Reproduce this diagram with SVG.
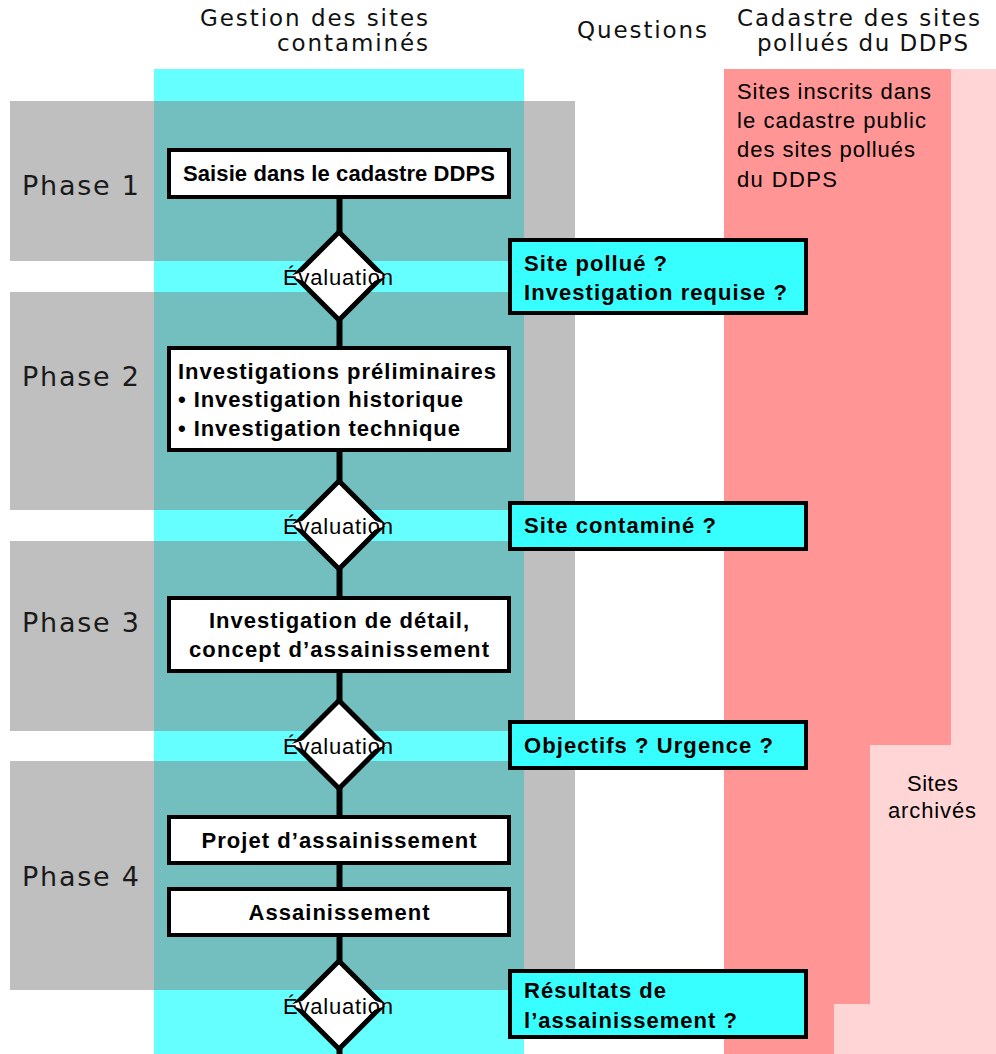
<svg xmlns="http://www.w3.org/2000/svg" width="996" height="1054" viewBox="0 0 996 1054">
<style>
.hdr{font-family:"DejaVu Sans",Verdana,sans-serif;font-size:23px;fill:#111}
.phase{font-family:"DejaVu Sans",Verdana,sans-serif;font-size:27px;fill:#1a1a1a}
.band{fill:#808080;fill-opacity:0.5}
.box{fill:#fff;stroke:#000;stroke-width:4}
.q{fill:#38ffff;stroke:#000;stroke-width:4}
.bt{font-family:"Liberation Sans",Arial,Helvetica,sans-serif;font-weight:bold;font-size:22px;fill:#000}
.rt{font-family:"Liberation Sans",Arial,Helvetica,sans-serif;font-size:22px;fill:#000}
.dia{fill:#fff;stroke:#000;stroke-width:5;stroke-linejoin:miter}
.ev{font-family:"Liberation Sans",Arial,Helvetica,sans-serif;font-size:22px;fill:#000;text-anchor:middle}
.con{stroke:#000;stroke-width:6;fill:none}
</style>
<rect width="996" height="1054" fill="#fff"/>
<g id="background">
<rect x="154" y="69" width="370" height="985" fill="#66ffff"/>
<rect x="724" y="69" width="272" height="985" fill="#ffd5d5"/>
<polygon points="724,69 951,69 951,745 870,745 870,1004 834,1004 834,1054 724,1054" fill="#ff9595"/>
<rect class="band" x="10" y="101" width="565" height="160"/>
<rect class="band" x="10" y="292" width="565" height="218"/>
<rect class="band" x="10" y="541" width="565" height="190"/>
<rect class="band" x="10" y="761" width="565" height="229"/>
</g>
<g id="headers">
<text class="hdr" x="200" y="26" textLength="228" lengthAdjust="spacing">Gestion des sites</text>
<text class="hdr" x="277" y="51" textLength="151" lengthAdjust="spacing">contaminés</text>
<text class="hdr" x="577" y="38" textLength="130" lengthAdjust="spacing">Questions</text>
<text class="hdr" x="737" y="26" textLength="243" lengthAdjust="spacing">Cadastre des sites</text>
<text class="hdr" x="757" y="51" textLength="211" lengthAdjust="spacing">pollués du DDPS</text>
</g>
<g id="phases">
<text class="phase" x="22" y="195" textLength="117" lengthAdjust="spacing">Phase 1</text>
<text class="phase" x="22" y="386" textLength="117" lengthAdjust="spacing">Phase 2</text>
<text class="phase" x="22" y="632" textLength="117" lengthAdjust="spacing">Phase 3</text>
<text class="phase" x="22" y="886" textLength="117" lengthAdjust="spacing">Phase 4</text>
</g>
<g id="cadastre-text">
<text class="rt" x="737" y="99" textLength="194" lengthAdjust="spacing">Sites inscrits dans</text>
<text class="rt" x="737" y="128" textLength="189" lengthAdjust="spacing">le cadastre public</text>
<text class="rt" x="737" y="157" textLength="178" lengthAdjust="spacing">des sites pollués</text>
<text class="rt" x="737" y="187" textLength="100" lengthAdjust="spacing">du DDPS</text>
</g>
<g id="archives-text">
<text class="rt" x="907" y="791" textLength="51" lengthAdjust="spacing">Sites</text>
<text class="rt" x="888" y="818" textLength="88" lengthAdjust="spacing">archivés</text>
</g>
<g id="connectors">
<line class="con" x1="339.5" y1="198" x2="339.5" y2="234"/>
<line class="con" x1="339.5" y1="318" x2="339.5" y2="348"/>
<line class="con" x1="339.5" y1="452" x2="339.5" y2="483"/>
<line class="con" x1="339.5" y1="567" x2="339.5" y2="598"/>
<line class="con" x1="339.5" y1="673" x2="339.5" y2="702"/>
<line class="con" x1="339.5" y1="787" x2="339.5" y2="817"/>
<line class="con" x1="339.5" y1="865" x2="339.5" y2="889"/>
<line class="con" x1="339.5" y1="937" x2="339.5" y2="962"/>
<line class="con" x1="339.5" y1="1048" x2="339.5" y2="1054"/>
</g>
<g id="box-saisie">
<rect class="box" x="169" y="150" width="340" height="47"/>
<text class="bt" x="339" y="181" text-anchor="middle" textLength="312" lengthAdjust="spacing">Saisie dans le cadastre DDPS</text>
</g>
<g id="eval-1">
<polygon class="dia" points="339,232 383,276 339,320 295,276"/>
<polygon points="326,264 352,264 388,276 352,289 325,289 290,276" fill="#fff"/>
<text class="ev" x="338" y="285" textLength="110" lengthAdjust="spacing">Évaluation</text>
</g>
<g id="q-1">
<rect class="q" x="510" y="240" width="296" height="73"/>
<text class="bt" x="524" y="271" textLength="143" lengthAdjust="spacing">Site pollué ?</text>
<text class="bt" x="524" y="300" textLength="263" lengthAdjust="spacing">Investigation requise ?</text>
</g>
<g id="box-prelim">
<rect class="box" x="169" y="348" width="340" height="102"/>
<text class="bt" x="178" y="379" textLength="318" lengthAdjust="spacing">Investigations préliminaires</text>
<text class="bt" x="178" y="407" textLength="285" lengthAdjust="spacing">• Investigation historique</text>
<text class="bt" x="178" y="436" textLength="282" lengthAdjust="spacing">• Investigation technique</text>
</g>
<g id="eval-2">
<polygon class="dia" points="339,481 383,525 339,569 295,525"/>
<polygon points="326,513 352,513 388,525 352,538 325,538 290,525" fill="#fff"/>
<text class="ev" x="338" y="534" textLength="110" lengthAdjust="spacing">Évaluation</text>
</g>
<g id="q-2">
<rect class="q" x="510" y="503" width="296" height="46"/>
<text class="bt" x="524" y="533" textLength="192" lengthAdjust="spacing">Site contaminé ?</text>
</g>
<g id="box-detail">
<rect class="box" x="169" y="598" width="340" height="73"/>
<text class="bt" x="339" y="628" text-anchor="middle" textLength="260" lengthAdjust="spacing">Investigation de détail,</text>
<text class="bt" x="339" y="657" text-anchor="middle" textLength="300" lengthAdjust="spacing">concept d’assainissement</text>
</g>
<g id="eval-3">
<polygon class="dia" points="339,700.5 383,744.5 339,788.5 295,744.5"/>
<polygon points="326,732.5 352,732.5 388,744.5 352,757.5 325,757.5 290,744.5" fill="#fff"/>
<text class="ev" x="338" y="754" textLength="110" lengthAdjust="spacing">Évaluation</text>
</g>
<g id="q-3">
<rect class="q" x="510" y="722" width="296" height="46"/>
<text class="bt" x="524" y="753" textLength="249" lengthAdjust="spacing">Objectifs ? Urgence ?</text>
</g>
<g id="box-projet">
<rect class="box" x="169" y="817" width="340" height="46"/>
<text class="bt" x="339" y="848" text-anchor="middle" textLength="275" lengthAdjust="spacing">Projet d’assainissement</text>
</g>
<g id="box-assain">
<rect class="box" x="169" y="889" width="340" height="46"/>
<text class="bt" x="339" y="920" text-anchor="middle" textLength="181" lengthAdjust="spacing">Assainissement</text>
</g>
<g id="eval-4">
<polygon class="dia" points="339,961 383,1005 339,1049 295,1005"/>
<polygon points="326,993 352,993 388,1005 352,1018 325,1018 290,1005" fill="#fff"/>
<text class="ev" x="338" y="1014" textLength="110" lengthAdjust="spacing">Évaluation</text>
</g>
<g id="q-4">
<rect class="q" x="510" y="971" width="296" height="66"/>
<text class="bt" x="524" y="998" textLength="142" lengthAdjust="spacing">Résultats de</text>
<text class="bt" x="524" y="1028" textLength="213" lengthAdjust="spacing">l’assainissement ?</text>
</g>
</svg>
